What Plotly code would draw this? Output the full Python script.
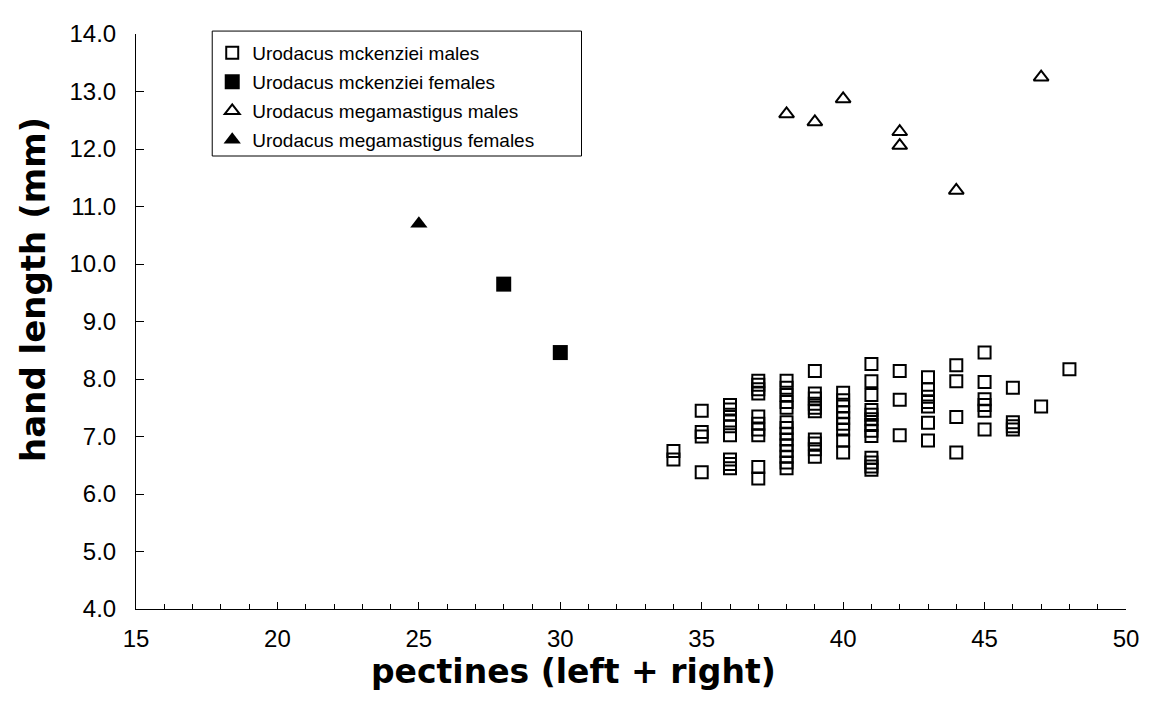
import plotly.graph_objects as go

# ---- data ----
mck_males_x = ([34]*2 + [35]*4 + [36]*9 + [37]*10 + [38]*14 + [39]*10 + [40]*9 +
               [41]*13 + [42]*3 + [43]*7 + [44]*4 + [45]*6 + [46]*4 + [47] + [48])
mck_males_y = [6.75, 6.60,
               7.45, 7.08, 7.00, 6.38,
               7.55, 7.47, 7.38, 7.28, 7.18, 7.02, 6.60, 6.52, 6.45,
               7.97, 7.90, 7.82, 7.75, 7.35, 7.22, 7.12, 7.02, 6.47, 6.27,
               7.97, 7.85, 7.72, 7.60, 7.50, 7.25, 7.15, 7.05, 6.95, 6.85, 6.75, 6.65, 6.55, 6.45,
               8.14, 7.75, 7.66, 7.57, 7.50, 7.44, 6.95, 6.88, 6.78, 6.65,
               7.76, 7.63, 7.52, 7.42, 7.32, 7.22, 7.12, 6.93, 6.72,
               8.26, 7.96, 7.72, 7.46, 7.38, 7.30, 7.20, 7.10, 7.01, 6.63, 6.55, 6.48, 6.42,
               8.14, 7.64, 7.02,
               8.03, 7.82, 7.69, 7.60, 7.52, 7.24, 6.93,
               8.24, 7.96, 7.34, 6.72,
               8.46, 7.95, 7.65, 7.55, 7.45, 7.12,
               7.85, 7.25, 7.18, 7.12,
               7.52,
               8.17]

mck_females_x = [28, 30]
mck_females_y = [9.65, 8.46]

meg_males_x = [38, 39, 40, 42, 42, 44, 47]
meg_males_y = [12.61, 12.47, 12.87, 12.30, 12.06, 11.28, 13.25]

meg_females_x = [25]
meg_females_y = [10.70]

names = ["Urodacus mckenziei males", "Urodacus mckenziei females",
         "Urodacus megamastigus males", "Urodacus megamastigus females"]

x_ticks = [15, 20, 25, 30, 35, 40, 45, 50]
y_ticks = [4, 5, 6, 7, 8, 9, 10, 11, 12, 13, 14]

x_title = "pectines (left + right)"
y_title = "hand length (mm)"

FONT = "Arial, Liberation Sans, sans-serif"
TITLE_FONT = "DejaVu Sans, Arial, sans-serif"

fig = go.Figure()
fig.add_trace(go.Scatter(x=mck_males_x, y=mck_males_y, mode="markers", name=names[0],
                         legendgroup="a",
                         marker=dict(symbol="square-open", size=12, color="black",
                                     line=dict(width=2, color="black"))))
fig.add_trace(go.Scatter(x=mck_females_x, y=mck_females_y, mode="markers", name=names[1],
                         legendgroup="b",
                         marker=dict(symbol="square", size=15, color="black",
                                     line=dict(width=0))))
fig.add_trace(go.Scatter(x=meg_males_x, y=meg_males_y, mode="markers", name=names[2],
                         legendgroup="c",
                         marker=dict(symbol="triangle-up-open", size=13, color="black",
                                     line=dict(width=2, color="black"))))
fig.add_trace(go.Scatter(x=meg_females_x, y=meg_females_y, mode="markers", name=names[3],
                         legendgroup="d",
                         marker=dict(symbol="triangle-up", size=15, color="black",
                                     line=dict(width=0))))

# the page body adds an 8px offset, so the figure is slightly smaller than the window
fig.update_layout(
    width=1143, height=701,
    margin=dict(l=128, r=14, t=12, b=100),
    paper_bgcolor="white", plot_bgcolor="white",
    font=dict(family=FONT, color="black"),
    showlegend=True,
    legend=dict(x=0.077, y=1.0, xanchor="left", yanchor="top",
                bgcolor="rgba(0,0,0,0)", borderwidth=0,
                font=dict(size=19, family=FONT, color="black"),
                tracegroupgap=1.3),
    shapes=[dict(type="rect", xref="paper", yref="paper",
                 x0=0.077, x1=0.45, y0=0.7878, y1=1.0051,
                 line=dict(color="black", width=1), fillcolor="white", layer="below")],
    annotations=[
        dict(text="<b>" + x_title + "</b>", xref="paper", yref="paper",
             x=0.442, y=-0.108, xanchor="center", yanchor="middle", showarrow=False,
             borderpad=0,
             font=dict(size=33, family=TITLE_FONT, color="black")),
        dict(text="<b>" + y_title + "</b>", xref="paper", yref="paper",
             x=-0.104, y=0.555, xanchor="center", yanchor="middle", showarrow=False,
             textangle=-90, borderpad=0,
             font=dict(size=34, family=TITLE_FONT, color="black")),
    ],
    xaxis=dict(range=[15, 50], tickvals=x_ticks, ticks="inside", ticklen=7,
               tickcolor="black", tickwidth=1,
               minor=dict(dtick=1, ticks="inside", ticklen=5, tickcolor="black"),
               showline=True, linecolor="black", linewidth=1, showgrid=False,
               zeroline=False, tickfont=dict(size=24, family=FONT),
               ticklabelstandoff=8, ticklabeloverflow="allow"),
    yaxis=dict(range=[4, 14], tickvals=y_ticks, tickformat=".1f", ticks="inside",
               ticklen=8, tickcolor="black", tickwidth=1,
               showline=True, linecolor="black", linewidth=1, showgrid=False,
               zeroline=False, tickfont=dict(size=24, family=FONT),
               ticklabelstandoff=14, ticklabeloverflow="allow"),
)

fig.write_html("out.html")
